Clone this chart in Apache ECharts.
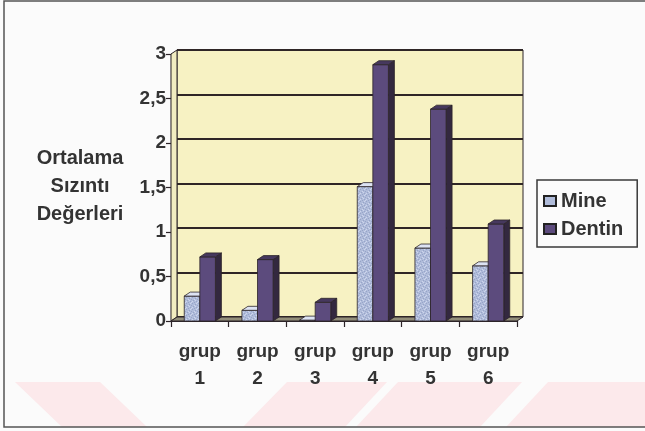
<!DOCTYPE html>
<html>
<head>
<meta charset="utf-8">
<script src="https://cdn.jsdelivr.net/npm/echarts@6/dist/echarts.min.js"></script>
<style>
  html, body { margin: 0; padding: 0; background: #fbfbfb; }
  #chart { width: 645px; height: 431px; }
</style>
</head>
<body>
<div id="chart"></div>
<script>
// Mean leakage values per group
const categories = ['grup\n1', 'grup\n2', 'grup\n3', 'grup\n4', 'grup\n5', 'grup\n6'];
const mineValues = [0.28, 0.12, 0.01, 1.51, 0.82, 0.62];
const dentinValues = [0.72, 0.69, 0.21, 2.88, 2.38, 1.09];
const seriesNames = ['Mine', 'Dentin'];
const axisTitle = 'Ortalama\nSızıntı\nDeğerleri';
const yMin = 0, yMax = 3, yStep = 0.5;

// 3D depth offset (pixels) for the walls and the bar tops/sides
const DX = 6, DY = -4;
const FONT = '"Liberation Sans", Arial, sans-serif';
const TEXT = '#333333';
const EDGE = '#2c2428';

// light speckled fill for the enamel bars
function speckle(base, dark, light) {
  const c = document.createElement('canvas');
  c.width = 6; c.height = 6;
  const g = c.getContext('2d');
  g.fillStyle = base; g.fillRect(0, 0, 6, 6);
  g.fillStyle = dark;
  [[1, 0], [4, 1], [0, 3], [3, 4], [5, 5], [2, 2]].forEach(p => g.fillRect(p[0], p[1], 1, 1));
  g.fillStyle = light;
  [[3, 0], [0, 1], [5, 2], [2, 5], [4, 3]].forEach(p => g.fillRect(p[0], p[1], 1, 1));
  return { image: c, repeat: 'repeat' };
}

const mineFaces = { front: speckle('#b0bcda', '#97a4c8', '#cdd5ec'), top: '#dde3f3', side: '#7f8db5' };
const dentinFaces = { front: '#5c4b7d', top: '#46385e', side: '#33283f' };

function bar3d(slot, faces) {
  return function (params, api) {
    const ci = api.value(0), v = api.value(1);
    const base = api.coord([ci, 0]);
    const top = api.coord([ci, v]);
    const band = api.size([1, 0])[0];
    const w = band * 0.27;
    const x0 = base[0] - w + slot * w, x1 = x0 + w;
    const y0 = top[1], y1 = base[1];
    const line = { stroke: EDGE, lineWidth: 0.8 };
    return {
      type: 'group',
      children: [
        { type: 'polygon', shape: { points: [[x1, y0], [x1 + DX, y0 + DY], [x1 + DX, y1 + DY], [x1, y1]] },
          style: Object.assign({ fill: faces.side }, line) },
        { type: 'rect', shape: { x: x0, y: y0, width: w, height: y1 - y0 },
          style: Object.assign({ fill: faces.front }, line) },
        { type: 'polygon', shape: { points: [[x0, y0], [x1, y0], [x1 + DX, y0 + DY], [x0 + DX, y0 + DY]] },
          style: Object.assign({ fill: faces.top }, line) }
      ]
    };
  };
}

// Left wall and floor joining the front axes to the back wall
function walls(params, api) {
  const cs = params.coordSys;
  const L = cs.x, T = cs.y, R = cs.x + cs.width, B = cs.y + cs.height;
  return {
    type: 'group',
    children: [
      { type: 'polygon', shape: { points: [[L, B], [L, T], [L + DX, T + DY], [L + DX, B + DY]] },
        style: { fill: '#f1ecc0', stroke: EDGE, lineWidth: 1 } },
      { type: 'polygon', shape: { points: [[L, B], [R, B], [R + DX, B + DY], [L + DX, B + DY]] },
        style: { fill: '#928e7a', stroke: EDGE, lineWidth: 1 } }
    ]
  };
}

const chart = echarts.init(document.getElementById('chart'), null, { renderer: 'canvas' });

const commaFmt = v => String(v).replace('.', ',');

chart.setOption({
  animation: false,
  backgroundColor: '#fbfbfb',
  textStyle: { fontFamily: FONT },
  graphic: [
    // faint diagonal bands along the bottom
    { type: 'polygon', z: -10, silent: true, shape: { points: [[15, 382], [100, 382], [147, 427], [62, 427]] }, style: { fill: '#fce9eb' } },
    { type: 'polygon', z: -10, silent: true, shape: { points: [[287, 382], [387, 382], [345, 427], [243, 427]] }, style: { fill: '#fce9eb' } },
    { type: 'polygon', z: -10, silent: true, shape: { points: [[398, 382], [522, 382], [480, 427], [356, 427]] }, style: { fill: '#fce9eb' } },
    { type: 'polygon', z: -10, silent: true, shape: { points: [[548, 382], [650, 382], [650, 427], [506, 427]] }, style: { fill: '#fce9eb' } },
    // outer frame
    { type: 'rect', z: 10, silent: true, shape: { x: 4, y: 1, width: 660, height: 426 },
      style: { fill: 'none', stroke: '#555555', lineWidth: 1.5 } },
    // vertical axis title
    { type: 'text', z: 10, x: 80, y: 186, silent: true,
      style: { text: axisTitle, font: 'bold 20px ' + FONT, fill: TEXT, align: 'center', verticalAlign: 'middle', lineHeight: 28 } }
  ],
  legend: {
    data: seriesNames,
    orient: 'vertical',
    left: 537,
    top: 180,
    borderColor: '#3a3a3a',
    borderWidth: 1.5,
    padding: [11, 14, 8, 6],
    itemWidth: 12,
    itemHeight: 10,
    itemGap: 8,
    icon: 'rect',
    textStyle: { fontFamily: FONT, fontSize: 20, fontWeight: 'bold', color: TEXT }
  },
  grid: [
    // back wall
    { left: 177, top: 50, width: 346, height: 267, show: true, backgroundColor: '#f7f2c3',
      borderColor: EDGE, borderWidth: 1 },
    // front plane holding axes and bars
    { left: 171, top: 54, width: 346, height: 267 }
  ],
  xAxis: [
    { gridIndex: 0, type: 'category', data: categories,
      axisLine: { show: false }, axisTick: { show: false }, axisLabel: { show: false }, splitLine: { show: false } },
    { gridIndex: 1, type: 'category', data: categories,
      axisLine: { lineStyle: { color: EDGE, width: 1.2 } },
      axisTick: { show: true, length: 6, lineStyle: { color: EDGE, width: 1.2 } },
      axisLabel: { fontFamily: FONT, fontSize: 19, fontWeight: 'bold', color: TEXT, lineHeight: 27, margin: 17 } }
  ],
  yAxis: [
    { gridIndex: 0, type: 'value', min: yMin, max: yMax, interval: yStep,
      axisLine: { show: false }, axisTick: { show: false }, axisLabel: { show: false },
      splitLine: { show: true, lineStyle: { color: '#2f2626', width: 2 } } },
    { gridIndex: 1, type: 'value', min: yMin, max: yMax, interval: yStep,
      axisLine: { show: true, lineStyle: { color: EDGE, width: 1.2 } },
      axisTick: { show: true, length: 5, lineStyle: { color: EDGE, width: 1.2 } },
      splitLine: { show: false },
      axisLabel: { fontFamily: FONT, fontSize: 19, fontWeight: 'bold', color: TEXT, margin: 5, formatter: commaFmt } }
  ],
  series: [
    { type: 'custom', name: 'walls', xAxisIndex: 1, yAxisIndex: 1, silent: true, z: 1,
      data: [[0, 0]], renderItem: walls },
    { type: 'custom', name: seriesNames[0], xAxisIndex: 1, yAxisIndex: 1, z: 3,
      itemStyle: { color: '#b0bcda', borderColor: '#222', borderWidth: 1 },
      encode: { x: 0, y: 1 },
      data: mineValues.map((v, i) => [i, v]), renderItem: bar3d(0, mineFaces) },
    { type: 'custom', name: seriesNames[1], xAxisIndex: 1, yAxisIndex: 1, z: 4,
      itemStyle: { color: dentinFaces.front, borderColor: '#222', borderWidth: 1 },
      encode: { x: 0, y: 1 },
      data: dentinValues.map((v, i) => [i, v]), renderItem: bar3d(1, dentinFaces) }
  ]
});
</script>
</body>
</html>
